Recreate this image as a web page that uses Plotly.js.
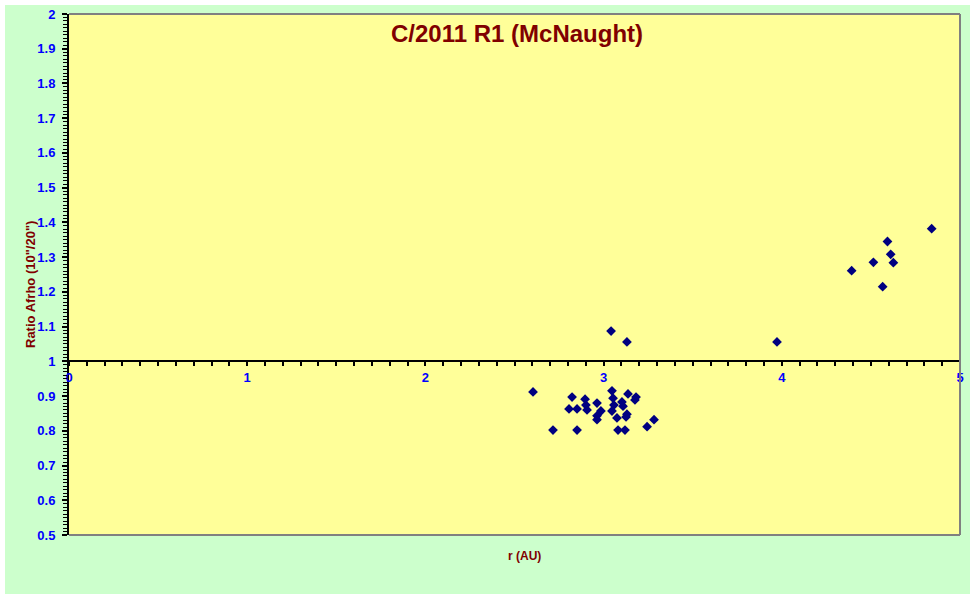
<!DOCTYPE html>
<html>
<head>
<meta charset="utf-8">
<script src="https://cdn.plot.ly/plotly-3.0.1.min.js"></script>
<style>
  html, body { margin: 0; padding: 0; background: #ffffff; }
  #chart { position: absolute; left: 5px; top: 5px; width: 965px; height: 589px; }
</style>
</head>
<body>
<div id="chart"></div>
<script>
// Heliocentric distance r (AU)
const rAU = [
  2.604, 2.716, 2.806, 2.823, 2.851, 2.851, 2.896, 2.901, 2.907, 2.963,
  2.985, 2.963, 2.963, 3.047, 3.053, 3.058, 3.047, 3.075, 3.103, 3.109,
  3.137, 3.131, 3.126, 3.182, 3.176, 3.081, 3.120, 3.244, 3.283,
  3.042, 3.131, 3.973,
  4.392, 4.514, 4.593, 4.611, 4.626, 4.566, 4.841
];
// Ratio Afrho (10"/20")
const ratioAfrho = [
  0.912, 0.802, 0.863, 0.897, 0.863, 0.802, 0.891, 0.874, 0.860, 0.880,
  0.857, 0.843, 0.832, 0.915, 0.894, 0.874, 0.857, 0.837, 0.883, 0.871,
  0.906, 0.848, 0.840, 0.897, 0.889, 0.802, 0.802, 0.812, 0.832,
  1.087, 1.056, 1.056,
  1.261, 1.285, 1.345, 1.308, 1.284, 1.215, 1.382
];
const xTicks = [0, 1, 2, 3, 4, 5];
const yTicks = [0.5, 0.6, 0.7, 0.8, 0.9, 1, 1.1, 1.2, 1.3, 1.4, 1.5, 1.6, 1.7, 1.8, 1.9, 2];

const chartTitle = 'C/2011 R1 (McNaught)';
const xTitle = 'r (AU)';
const yTitle = 'Ratio Afrho (10"/20")';

const trace = {
  x: rAU,
  y: ratioAfrho,
  type: 'scatter',
  mode: 'markers',
  marker: { symbol: 'diamond', size: 7.5, color: '#000080', line: { width: 0 } },
  cliponaxis: false,
  hoverinfo: 'x+y'
};

const tickFont = { family: 'Liberation Sans, Arial, sans-serif', size: 13, color: '#0000FF', weight: 'bold' };
const labelFont = { family: 'Liberation Sans, Arial, sans-serif', size: 12, color: '#800000', weight: 'bold' };

const layout = {
  width: 965,
  height: 589,
  paper_bgcolor: '#CCFFCC',
  plot_bgcolor: '#FFFF99',
  margin: { l: 64, r: 10, t: 9, b: 59, pad: 0 },
  showlegend: false,
  xaxis: {
    range: [0, 5],
    tickvals: xTicks,
    ticktext: xTicks.map(String),
    anchor: 'free',
    position: 1 / 3,
    showgrid: false,
    zeroline: false,
    showline: true,
    linecolor: '#000000',
    linewidth: 2,
    ticks: 'outside',
    ticklen: 4,
    tickwidth: 2,
    tickcolor: '#000000',
    minor: { dtick: 0.1, ticks: 'outside', ticklen: 4, tickwidth: 2, tickcolor: '#000000', showgrid: false },
    tickfont: tickFont,
    fixedrange: true
  },
  yaxis: {
    range: [0.5, 2],
    tickvals: yTicks,
    ticktext: yTicks.map(String),
    showgrid: false,
    zeroline: false,
    showline: true,
    linecolor: '#000000',
    linewidth: 2,
    ticks: 'outside',
    ticklen: 5,
    tickwidth: 2,
    tickcolor: '#000000',
    minor: { dtick: 0.01, ticks: 'outside', ticklen: 4, tickwidth: 1, tickcolor: '#000000', showgrid: false },
    tickfont: tickFont,
    ticklabelstandoff: 4,
    fixedrange: true
  },
  shapes: [
    { type: 'line', xref: 'paper', yref: 'paper', x0: 0, x1: 1, y0: 1, y1: 1, line: { color: '#808080', width: 2 } },
    { type: 'line', xref: 'paper', yref: 'paper', x0: 1, x1: 1, y0: 0, y1: 1, line: { color: '#808080', width: 2 } },
    { type: 'line', xref: 'paper', yref: 'paper', x0: 0, x1: 1, y0: 0, y1: 0, line: { color: '#808080', width: 2 } }
  ],
  annotations: [
    { text: chartTitle, xref: 'paper', yref: 'paper', x: (517 - 69) / 891, y: (535 - 34) / 521, xanchor: 'center', yanchor: 'middle', showarrow: false,
      font: { family: 'Liberation Sans, Arial, sans-serif', size: 24, color: '#800000', weight: 'bold' } },
    { text: xTitle, xref: 'paper', yref: 'paper', x: (524 - 69) / 891, y: (535 - 556) / 521, xanchor: 'center', yanchor: 'middle', showarrow: false,
      font: labelFont },
    { text: yTitle, xref: 'paper', yref: 'paper', x: (30 - 69) / 891, y: (535 - 285) / 521, xanchor: 'center', yanchor: 'middle', showarrow: false,
      textangle: -90, font: { family: 'Liberation Sans, Arial, sans-serif', size: 13, color: '#800000', weight: 'bold' } }
  ]
};

Plotly.newPlot('chart', [trace], layout, { staticPlot: true, displayModeBar: false });
</script>
</body>
</html>
